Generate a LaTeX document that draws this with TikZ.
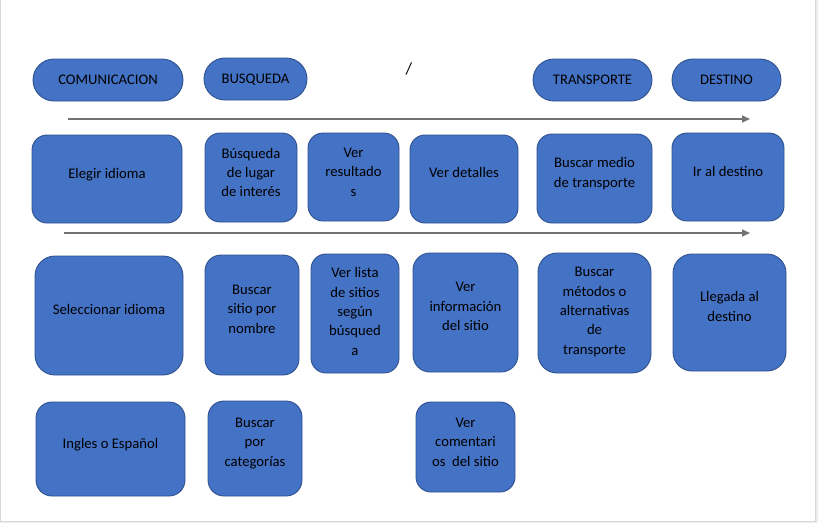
\documentclass[tikz,border=0pt]{standalone}
\usepackage{fontspec}
\setmainfont{Carlito}
\usetikzlibrary{arrows.meta}
\definecolor{cardfill}{HTML}{4472C4}
\definecolor{cardline}{HTML}{2F528F}
\definecolor{flowgray}{HTML}{737373}
\definecolor{pageedge}{HTML}{D9D9D9}
\tikzset{
  pill/.style={draw=cardline, fill=cardfill, line width=0.9pt, rounded corners=21pt,
    minimum height=42pt, inner sep=0pt, text height=9.4pt, text depth=0pt,
    font=\fontsize{14.67}{19.4}\selectfont},
  card/.style={draw=cardline, fill=cardfill, line width=0.9pt, rounded corners=15pt,
    inner sep=0pt},
  cardtxt/.style={align=center, yshift=5pt, font=\fontsize{14.67}{19.4}\selectfont},
  flow/.style={draw=flowgray, line width=1.3pt, -{Triangle[length=8pt,width=7pt]}}
}

\begin{document}
\begin{tikzpicture}[x=1pt, y=-1pt]
		%%%%% START %%%%%
		\useasboundingbox (0,0) rectangle (818,523);
		
		% page edges
		\fill[pageedge!50] (815,0) rectangle (818,523);
		\fill[pageedge!50] (0,521) rectangle (818,523);
		\draw[pageedge, line width=1pt] (0.5,0) -- (0.5,521) -- (815,521) -- (815,0);
		
		% stages
		\node[pill, minimum width=150pt] (comunic) at (108,80) {COMUNICACION};
		\node[pill, minimum width=103pt] (busq) at (255.5,79) {BUSQUEDA};
		\node[font=\fontsize{17}{20}\selectfont] (slash) at (409,69) {/};
		\node[pill, minimum width=119pt] (transp) at (592.5,80) {TRANSPORTE};
		\node[pill, minimum width=109pt] (destino) at (726.5,80) {DESTINO};
		
		% flow lines
		\coordinate (flowA0) at (68,119);
		\coordinate (flowA1) at (750,119);
		\coordinate (flowB0) at (64,233);
		\coordinate (flowB1) at (750,233);
		\draw[flow] (flowA0) -- (flowA1);
		\draw[flow] (flowB0) -- (flowB1);
		
		% first row of tasks
		\node[card, minimum width=150pt, minimum height=88pt,
		  label={[cardtxt, yshift=-1pt]center:Elegir idioma}] (elegir) at (107,179) {};
		\node[card, minimum width=92pt, minimum height=89pt,
		  label={[cardtxt]center:Búsqueda\\de lugar\\de interés}] (lugar) at (251,177.5) {};
		\node[card, minimum width=91pt, minimum height=88pt,
		  label={[cardtxt]center:Ver\\resultado\\s}] (result) at (353.5,177) {};
		\node[card, minimum width=108pt, minimum height=88pt,
		  label={[cardtxt, yshift=2pt]center:Ver detalles}] (detalle) at (464,179) {};
		\node[card, minimum width=115pt, minimum height=89pt,
		  label={[cardtxt]center:Buscar medio\\de transporte}] (medio) at (594.5,178.5) {};
		\node[card, minimum width=112pt, minimum height=88pt,
		  label={[cardtxt, yshift=1pt]center:Ir al destino}] (irdest) at (728,177) {};
		
		% second row of tasks
		\node[card, minimum width=148pt, minimum height=119pt, rounded corners=20pt,
		  label={[cardtxt, yshift=1pt]center:Seleccionar idioma}] (selec) at (109,315.5) {};
		\node[card, minimum width=94pt, minimum height=120pt, rounded corners=16pt,
		  label={[cardtxt, yshift=1pt]center:Buscar\\sitio por\\nombre}] (nombre) at (252,315) {};
		\node[card, minimum width=88pt, minimum height=119pt,
		  label={[cardtxt, yshift=-3pt]center:Ver lista\\de sitios\\según\\búsqued\\a}] (lista) at (355,313.5) {};
		\node[card, minimum width=105pt, minimum height=119pt, rounded corners=17pt,
		  label={[cardtxt, yshift=1pt]center:Ver\\información\\del sitio}] (info) at (465.5,312.5) {};
		\node[card, minimum width=113pt, minimum height=120pt, rounded corners=19pt,
		  label={[cardtxt, yshift=-4pt]center:Buscar\\métodos o\\alternativas\\de\\transporte}] (metodos) at (594.5,313) {};
		\node[card, minimum width=113pt, minimum height=117pt, rounded corners=19pt,
		  label={[cardtxt, yshift=1pt]center:Llegada al\\destino}] (llegada) at (729.5,312.5) {};
		
		% third row of tasks
		\node[card, minimum width=149pt, minimum height=94pt, rounded corners=16pt,
		  label={[cardtxt, yshift=-1pt]center:Ingles o Español}] (ingles) at (110.5,449) {};
		\node[card, minimum width=94pt, minimum height=95pt, rounded corners=16pt,
		  label={[cardtxt]center:Buscar\\por\\categorías}] (categ) at (255,448.5) {};
		\node[card, minimum width=99pt, minimum height=90pt,
		  label={[cardtxt]center:Ver\\comentari\\os\ \ del sitio}] (coment) at (465.5,447) {};
		
		%%%%% END %%%%%
	\end{tikzpicture}
\end{document}
